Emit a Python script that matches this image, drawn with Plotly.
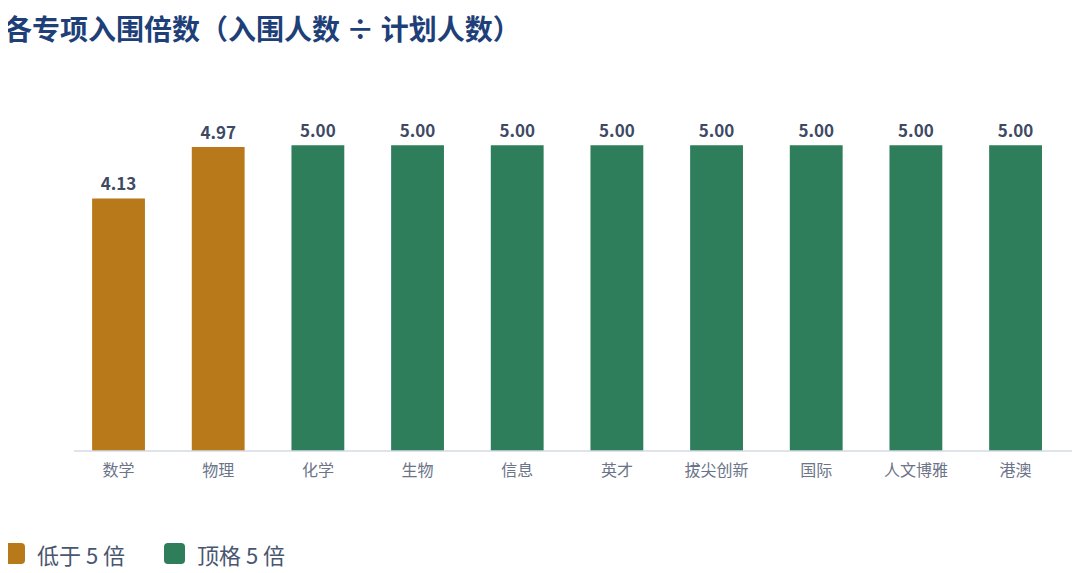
import plotly.graph_objects as go

categories = ["数学", "物理", "化学", "生物", "信息", "英才", "拔尖创新", "国际", "人文博雅", "港澳"]
values = [4.13, 4.97, 5.00, 5.00, 5.00, 5.00, 5.00, 5.00, 5.00, 5.00]
legend_labels = ["低于 5 倍", "顶格 5 倍"]
title_text = "各专项入围倍数（入围人数 ÷ 计划人数）"

ORANGE = "#B8791A"
GREEN = "#2E7D5B"
colors = [ORANGE if v < 5 else GREEN for v in values]

W, H = 1080, 573
OFF = 8  # page body margin
FONT = "Noto Sans CJK SC"

def px(x):
    return (x - OFF) / W

def py(y):
    return 1 - (y - OFF) / H

fig = go.Figure()
fig.add_trace(go.Bar(
    x=categories, y=values, marker=dict(color=colors, line=dict(width=0)),
    width=0.53,
    text=[f"{v:.2f}" for v in values], textposition="outside",
    textfont=dict(family=FONT, size=17, color="#3E4A65", weight="bold"),
    cliponaxis=False, showlegend=False, hoverinfo="x+y",
))

shapes = [
    dict(type="line", xref="paper", yref="paper", x0=px(74), x1=px(1078), y0=py(451), y1=py(451),
         line=dict(color="#D3DAE6", width=1.5), layer="above"),
]

def rrect(x0, y0, x1, y1, r):
    return (f"M {px(x0+r)},{py(y0)} L {px(x1-r)},{py(y0)} Q {px(x1)},{py(y0)} {px(x1)},{py(y0+r)} "
            f"L {px(x1)},{py(y1-r)} Q {px(x1)},{py(y1)} {px(x1-r)},{py(y1)} "
            f"L {px(x0+r)},{py(y1)} Q {px(x0)},{py(y1)} {px(x0)},{py(y1-r)} "
            f"L {px(x0)},{py(y0+r)} Q {px(x0)},{py(y0)} {px(x0+r)},{py(y0)} Z")

legend_colors = [ORANGE, GREEN]
legend_x = [4, 164]
annotations = [
    dict(text=f"<b>{title_text}</b>", xref="paper", yref="paper", x=px(2), y=py(28),
         xanchor="left", yanchor="middle", showarrow=False,
         font=dict(family=FONT, size=28, color="#1E3F78")),
]
for lab, c, lx in zip(legend_labels, legend_colors, legend_x):
    shapes.append(dict(type="path", xref="paper", yref="paper", path=rrect(lx, 543, lx + 21, 564, 4),
                       fillcolor=c, line=dict(width=0)))
    annotations.append(dict(text=lab, xref="paper", yref="paper", x=px(lx + 31), y=py(554),
                            xanchor="left", yanchor="middle", showarrow=False,
                            font=dict(family=FONT, size=22, color="#4A5570")))

fig.update_layout(
    width=W, height=H, margin=dict(l=0, r=0, t=0, b=0),
    paper_bgcolor="white", plot_bgcolor="white",
    xaxis=dict(domain=[px(68.7), px(1065.4)], showline=False, showgrid=False, ticks="",
               tickfont=dict(family=FONT, size=16, color="#6B7488"), ticklabelstandoff=8),
    yaxis=dict(domain=[py(451), py(84)], range=[0, 6], visible=False, showgrid=False),
    shapes=shapes, annotations=annotations,
)

fig.write_html("out.html")
